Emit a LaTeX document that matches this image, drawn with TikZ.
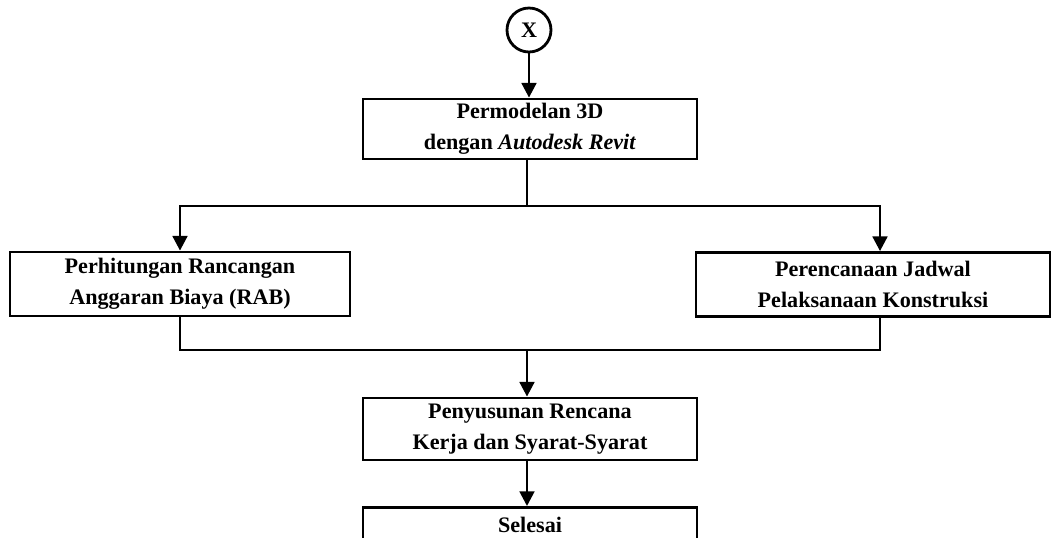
\documentclass[tikz,border=0pt]{standalone}
\usepackage{fontspec}
\setmainfont{Liberation Serif}
\usepackage{tikz}
\usetikzlibrary{arrows.meta, positioning, calc}

\begin{document}
\begin{tikzpicture}[
    x=0.75pt, y=-0.75pt,
    font=\fontsize{16.6}{23}\selectfont\bfseries,
    flow/.style={-{Triangle[length=11pt, width=11pt]}, line width=2.1pt},
    link/.style={line width=2.1pt},
    procbox/.style={draw, line width=2.1pt, align=center, inner sep=0pt},
]
\clip (0,0) rectangle (1057,537);

% ============ penghubung X ============
\node[draw, circle, line width=2.1pt, minimum size=33pt, inner sep=0pt] (x) at (529,30) {X};

% ============ permodelan ============
\node[procbox, minimum width=250.5pt, minimum height=45pt] (model) at (530,129)
    {Permodelan 3D\\ dengan \textit{Autodesk Revit}};
\draw[flow] (x.south) -- (x.south |- model.north);

% ============ RAB dan jadwal ============
\node[procbox, minimum width=255pt, minimum height=48pt] (rab) at (180,284)
    {Perhitungan Rancangan\\ Anggaran Biaya (RAB)};
\node[procbox, minimum width=265.5pt, minimum height=48pt] (jadwal) at (873,284.5)
    {Perencanaan Jadwal\\ Pelaksanaan Konstruksi};

\coordinate (split) at (527,206);
\coordinate (join) at (527,350);
\draw[link] (model.south -| split) -- (split);
\draw[flow] (split) -| ($(rab.north)+(0,0)$);
\draw[flow] (split) -| ($(jadwal.north)+(7,0)$);
\draw[link] (rab.south) |- (join);
\draw[link] ($(jadwal.south)+(7,0)$) |- (join);

% ============ rencana kerja ============
\node[procbox, minimum width=250.5pt, minimum height=46.5pt] (rks) at (530,429)
    {Penyusunan Rencana\\ Kerja dan Syarat-Syarat};
\draw[flow] (join) -- (join |- rks.north);

% ============ selesai ============
\node[procbox, anchor=north, minimum width=250.5pt, text height=19pt, text depth=30pt] (end) at (530,506)
    {Selesai};
\draw[flow] (rks.south -| join) -- (join |- end.north);

\end{tikzpicture}
\end{document}
